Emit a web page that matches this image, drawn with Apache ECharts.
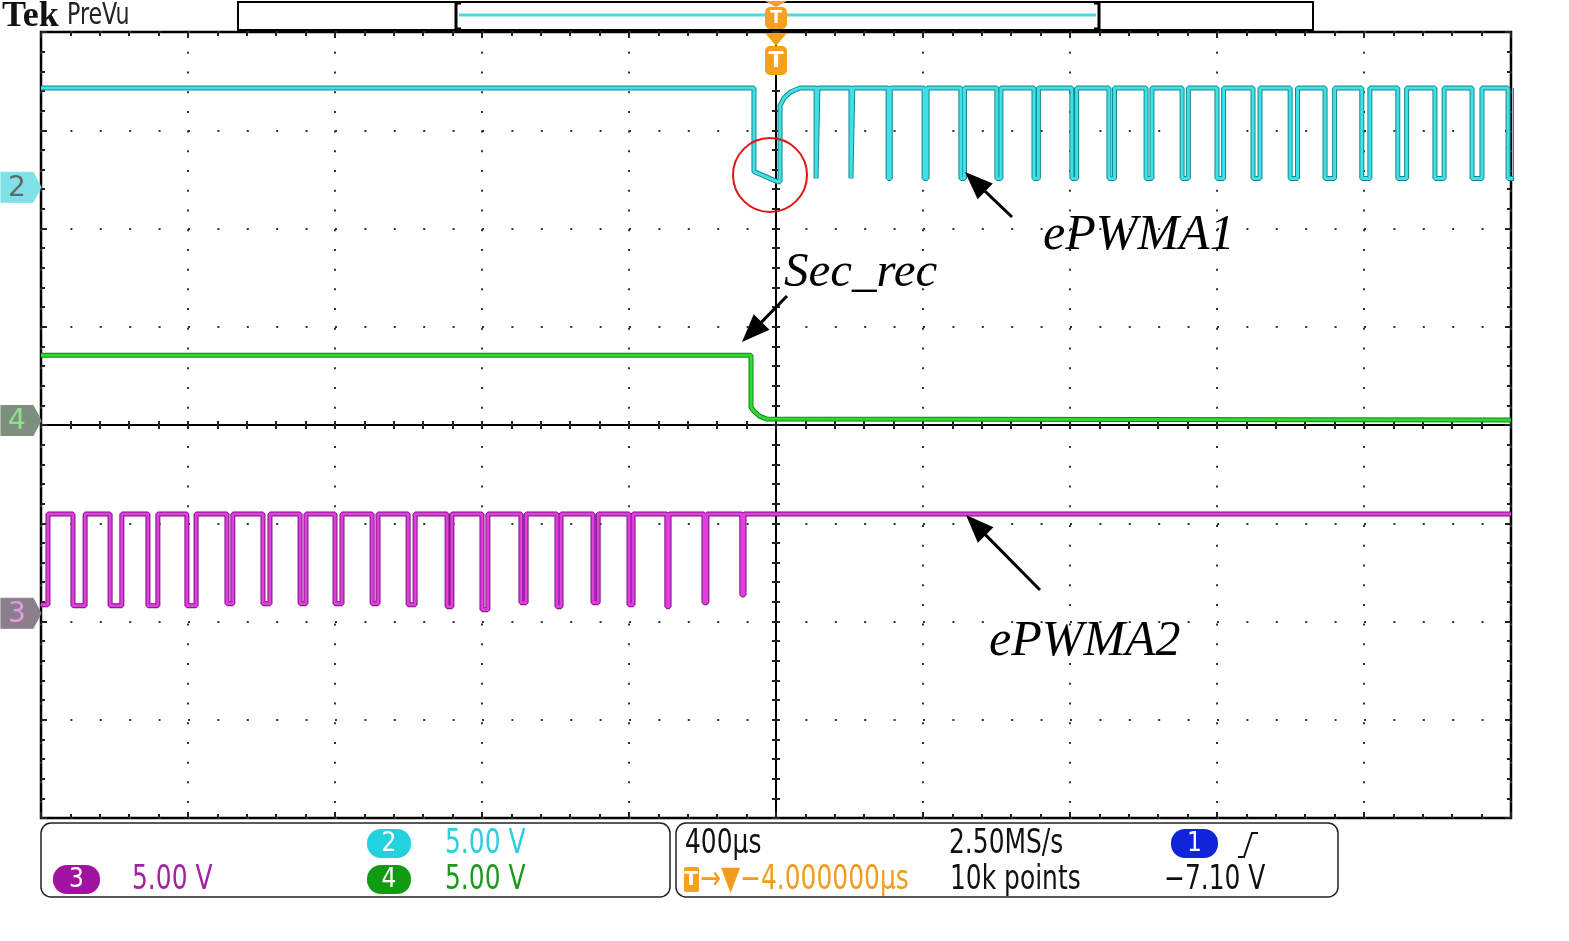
<!DOCTYPE html>
<html>
<head>
<meta charset="utf-8">
<title>Tek PreVu</title>
<script src="https://cdn.jsdelivr.net/npm/echarts@6/dist/echarts.min.js"></script>
<style>
html, body { margin: 0; padding: 0; background: #fff; }
#chart { width: 1569px; height: 941px; }
</style>
</head>
<body>
<div id="chart"></div>
<script>
// x: time in µs from screen centre (400 µs/div), y: screen divisions
var timeMin = -2000, timeMax = 2000, timeStep = 400;
var divMin = -4, divMax = 4;

// channel 2 (ePWMA1) - high after the trip, low pulses
var ch2Ground = 2.42;
var ch2High = 3.43;
var ch2Low = 2.51;
var ch2TripTime = [-60, -60, 5, 11, 11, 22, 40, 65];
var ch2TripLevel = [3.43, 2.58, 2.475, 2.475, 3.25, 3.33, 3.39, 3.43];
var ch2PulseStart = [109, 204, 305, 403, 503, 601, 702, 805, 906, 1007, 1105, 1200, 1298, 1399, 1494, 1594, 1692, 1793, 1894, 1992];
var ch2PulseWidth = [5, 5, 6, 8, 10, 11, 12, 13, 15, 16, 17, 18, 19, 20, 26, 22, 24, 25, 27, 20];

// channel 4 (Sec_rec)
var ch4Ground = 0.046;
var ch4Time = [-2000, -68, -68, -60, -45, -25, 2000];
var ch4Level = [0.71, 0.71, 0.18, 0.14, 0.09, 0.06, 0.05];

// channel 3 (ePWMA2) - pulses stop before the trip
var ch3Ground = -1.916;
var ch3High = -0.905;
var ch3FirstRise = -1981;
var ch3FirstLow = -1.83;
var ch3PulseStart = [-1913, -1812, -1709, -1603, -1494, -1396, -1295, -1200, -1099, -1001, -895, -800, -694, -596, -498, -400, -297, -196, -93];
var ch3PulseWidth = [33, 32, 27, 25, 16, 19, 16, 19, 16, 19, 13, 16, 14, 11, 14, 11, 6, 8, 6];
var ch3PulseLow = [-1.84, -1.84, -1.84, -1.84, -1.82, -1.82, -1.82, -1.82, -1.82, -1.83, -1.85, -1.88, -1.81, -1.85, -1.81, -1.83, -1.85, -1.81, -1.73];

var chart = echarts.init(document.getElementById('chart'));

// ch2 trace
var ch2Data = [[timeMin, ch2High]];
ch2TripTime.forEach(function (t, i) { ch2Data.push([t, ch2TripLevel[i]]); });
ch2PulseStart.forEach(function (t, i) {
    var e = t + ch2PulseWidth[i];
    ch2Data.push([t, ch2High], [t, ch2Low], [e, ch2Low], [e, ch2High]);
});
if (ch2Data[ch2Data.length - 1][0] < timeMax) ch2Data.push([timeMax, ch2High]);

// ch4 trace
var ch4Data = ch4Time.map(function (t, i) { return [t, ch4Level[i]]; });

// ch3 trace
var ch3Data = [[timeMin, ch3FirstLow], [ch3FirstRise, ch3FirstLow], [ch3FirstRise, ch3High]];
ch3PulseStart.forEach(function (t, i) {
    var e = t + ch3PulseWidth[i];
    ch3Data.push([t, ch3High], [t, ch3PulseLow[i]], [e, ch3PulseLow[i]], [e, ch3High]);
});
ch3Data.push([timeMax, ch3High]);

var scopeFont = "'DejaVu Sans Condensed', 'DejaVu Sans', sans-serif";

function chMarker(level, label, fill, textColor) {
    return {
        silent: true,
        symbol: 'path://M0,0L32,0L40,15L32,30L0,30Z',
        symbolSize: [40, 30],
        symbolOffset: [-20, 0],
        itemStyle: { color: fill, borderColor: fill, borderWidth: 1 },
        label: { show: true, formatter: label, color: textColor, fontSize: 28, fontFamily: 'DejaVu Sans', offset: [-4, 1] },
        data: [{ coord: [timeMin, level] }]
    };
}

function traceSeries(data, under, over, marker) {
    return [{
        type: 'line', data: data, showSymbol: false, animation: false, silent: true,
        lineStyle: { color: under, width: 5 }
    }, {
        type: 'line', data: data, showSymbol: false, animation: false, silent: true,
        lineStyle: { color: over, width: 3 },
        markPoint: marker
    }];
}

function frameAxis(pos, extra) {
    var isX = pos === 'top' || pos === 'bottom';
    var a = {
        type: 'value', position: pos,
        min: isX ? timeMin : divMin, max: isX ? timeMax : divMax,
        interval: isX ? timeStep : 1,
        axisLine: { show: false, onZero: false },
        axisTick: { show: true, inside: true, length: 6, lineStyle: { color: '#222', width: 2 } },
        minorTick: { show: true, splitNumber: 5, length: 4, lineStyle: { color: '#222', width: 2 } },
        axisLabel: { show: false },
        splitLine: { show: false }
    };
    for (var k in extra) a[k] = extra[k];
    return a;
}

function arrow(x1, y1, x2, y2) {
    var dx = x2 - x1, dy = y2 - y1, len = Math.sqrt(dx * dx + dy * dy);
    var ux = dx / len, uy = dy / len, hl = 28, hw = 11;
    var bx = x2 - ux * hl, by = y2 - uy * hl;
    return [
        { type: 'line', z: 60, shape: { x1: x1, y1: y1, x2: bx + ux * 4, y2: by + uy * 4 }, style: { stroke: '#000', lineWidth: 3 } },
        { type: 'polygon', z: 60, shape: { points: [[x2, y2], [bx - uy * hw, by + ux * hw], [bx + uy * hw, by - ux * hw]] }, style: { fill: '#000' } }
    ];
}

function txt(x, y, s, font, color, align, sx) {
    return { type: 'text', x: x, y: y, z: 60, scaleX: sx || 1, style: { text: s, font: font, fill: color, textAlign: align || 'left', textVerticalAlign: 'middle', verticalAlign: 'middle' } };
}

// narrow scope read-out text
function stxt(x, y, s, color) {
    return txt(x, y, s, '33px ' + scopeFont, color, 'left', 0.84);
}

function badge(x, y, w, label, fill) {
    return { type: 'group', x: x, y: y, children: [
        { type: 'rect', z: 60, shape: { x: 0, y: 0, width: w, height: 29, r: 14 }, style: { fill: fill } },
        { type: 'text', z: 61, x: w / 2, y: 15, style: { text: label, font: '26px ' + scopeFont, fill: '#fff', textAlign: 'center', textVerticalAlign: 'middle', verticalAlign: 'middle' } }
    ] };
}

function trigIcon(cx, y, tri, h) {
    return { type: 'group', x: cx, y: y, children: [
        { type: 'polygon', z: 100, shape: { points: [[-11, 0], [11, 0], [0, tri]] }, style: { fill: '#f5a01e' } },
        { type: 'rect', z: 100, shape: { x: -11, y: tri, width: 22, height: h, r: 5 }, style: { fill: '#f5a01e' } },
        { type: 'text', z: 101, x: 0, y: tri + h / 2 + 1, style: { text: 'T', font: 'bold ' + Math.round(h * 0.75) + 'px DejaVu Sans', fill: '#fff', textAlign: 'center', textVerticalAlign: 'middle', verticalAlign: 'middle' } }
    ] };
}

var gfx = [
    txt(2, 17, 'Tek', 'bold 36px "Liberation Serif"', '#111'),
    txt(67, 16, 'PreVu', '30px ' + scopeFont, '#222', 'left', 0.82),
    { type: 'rect', z: 50, shape: { x: 238, y: 2, width: 1075, height: 28 }, style: { fill: '#fff', stroke: '#000', lineWidth: 2 } },
    { type: 'polyline', z: 51, shape: { points: [[461, 3], [456, 3], [456, 29], [461, 29]] }, style: { stroke: '#000', lineWidth: 3, fill: null } },
    { type: 'polyline', z: 51, shape: { points: [[1094, 3], [1099, 3], [1099, 29], [1094, 29]] }, style: { stroke: '#000', lineWidth: 3, fill: null } },
    { type: 'line', z: 51, shape: { x1: 459, y1: 15, x2: 1096, y2: 15 }, style: { stroke: '#4fd8de', lineWidth: 3 } },
    trigIcon(776, 1, 6, 22),
    trigIcon(776, 33, 13, 29),
    { type: 'circle', z: 60, shape: { cx: 770, cy: 175, r: 37 }, style: { fill: null, stroke: '#e01515', lineWidth: 2 } },
    txt(1043, 236, 'ePWMA1', 'italic 50px "Liberation Serif"', '#000'),
    txt(784, 273, 'Sec_rec', 'italic 49px "Liberation Serif"', '#000'),
    txt(989, 642, 'ePWMA2', 'italic 50px "Liberation Serif"', '#000'),
    { type: 'rect', z: 50, shape: { x: 41, y: 823, width: 629, height: 74, r: 10 }, style: { fill: '#fff', stroke: '#222', lineWidth: 1.5 } },
    { type: 'rect', z: 50, shape: { x: 676, y: 823, width: 662, height: 74, r: 10 }, style: { fill: '#fff', stroke: '#222', lineWidth: 1.5 } },
    badge(367, 829, 44, '2', '#22d2de'),
    stxt(445, 844, '5.00 V', '#2ccfdc'),
    badge(53, 865, 47, '3', '#a012a0'),
    stxt(132, 880, '5.00 V', '#a322a3'),
    badge(367, 865, 44, '4', '#139a13'),
    stxt(445, 880, '5.00 V', '#1d9a1d'),
    stxt(685, 844, '400\u00b5s', '#111'),
    { type: 'rect', z: 60, shape: { x: 684, y: 867, width: 15, height: 25, r: 2 }, style: { fill: '#f5a01e' } },
    txt(691, 880, 'T', 'bold 20px DejaVu Sans', '#fff', 'center'),
    stxt(700, 880, '\u2192\u25bc\u22124.000000\u00b5s', '#f29b1c'),
    stxt(949, 844, '2.50MS/s', '#111'),
    stxt(950, 880, '10k points', '#111'),
    badge(1171, 829, 47, '1', '#1024dc'),
    { type: 'polyline', z: 60, shape: { points: [[1238, 857], [1244, 857], [1252, 833], [1258, 833]] }, style: { stroke: '#111', lineWidth: 2, fill: null } },
    stxt(1164, 880, '\u22127.10 V', '#111')
].concat(arrow(1012, 217, 965, 172), arrow(787, 296, 742, 342), arrow(1040, 590, 966, 515));

var option = {
    backgroundColor: '#fff',
    animation: false,
    grid: { left: 41, top: 32, width: 1470, height: 786, show: true, borderColor: '#000', borderWidth: 2.5, backgroundColor: '#fff' },
    xAxis: [
        frameAxis('bottom', { splitLine: { show: true, lineStyle: { color: '#333', width: 2, type: [2, 17.72] } } }),
        frameAxis('top'),
        frameAxis('bottom', { axisLine: { show: true, onZero: true, onZeroAxisIndex: 0, lineStyle: { color: '#000', width: 2 } }, axisTick: { show: true, inside: true, length: 4, lineStyle: { color: '#222', width: 2 } } }),
        frameAxis('top', { axisLine: { show: false, onZero: true, onZeroAxisIndex: 0 }, axisTick: { show: true, inside: true, length: 4, lineStyle: { color: '#222', width: 2 } } })
    ],
    yAxis: [
        frameAxis('left', { splitLine: { show: true, lineStyle: { color: '#333', width: 2, type: [2, 27.4] } } }),
        frameAxis('right'),
        frameAxis('left', { axisLine: { show: true, onZero: true, onZeroAxisIndex: 0, lineStyle: { color: '#000', width: 2 } }, axisTick: { show: true, inside: true, length: 4, lineStyle: { color: '#222', width: 2 } } }),
        frameAxis('right', { axisLine: { show: false, onZero: true, onZeroAxisIndex: 0 }, axisTick: { show: true, inside: true, length: 4, lineStyle: { color: '#222', width: 2 } } })
    ],
    series: [].concat(
        traceSeries(ch2Data, '#17878c', '#3fe0e6', chMarker(ch2Ground, '2', '#7fe2e6', '#5f6a6a')),
        traceSeries(ch4Data, '#138613', '#2fd82f', chMarker(ch4Ground, '4', '#7d8f7d', '#8fe08f')),
        traceSeries(ch3Data, '#7c0f7c', '#e03fe0', chMarker(ch3Ground, '3', '#8a7f8a', '#e59be5'))
    ),
    graphic: gfx
};
chart.setOption(option);
</script>
</body>
</html>
